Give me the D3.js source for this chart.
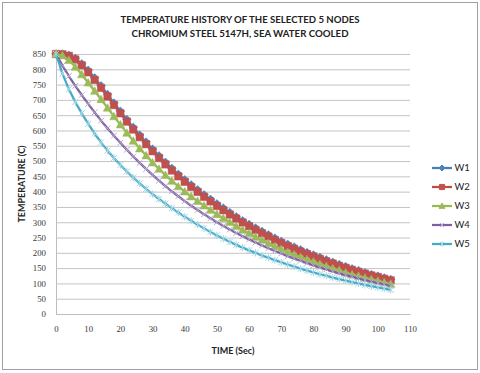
<!DOCTYPE html>
<html>
<head>
<meta charset="utf-8">
<script src="https://cdnjs.cloudflare.com/ajax/libs/d3/7.8.5/d3.min.js"></script>
<style>
  body { margin: 0; background: #fff; }
  svg { display: block; }
</style>
</head>
<body>
<script>
// time steps (sec) - one reading every 2 seconds
const timeSec = [0,2,4,6,8,10,12,14,16,18,20,22,24,26,28,30,32,34,36,38,40,42,44,46,48,50,
  52,54,56,58,60,62,64,66,68,70,72,74,76,78,80,82,84,86,88,90,92,94,96,98,100,102,104];

// node temperatures (C)
const w1 = [850,850,846,836,818,797,772,746,718,690,663,636,610,585,562,539,517,496,476,457,439,422,406,390,375,360,
  346,332,318,305,293,281,270,259,248,238,228,219,210,201,193,185,177,169,162,155,148,142,135,129,124,118,113];
const w2 = [850,849,844,832,813,790,765,739,711,683,656,629,603,578,555,532,510,489,469,450,432,415,399,383,368,353,
  339,325,312,299,287,275,264,253,242,232,222,213,204,196,188,180,172,165,157,151,144,138,132,126,121,115,110];
const w3 = [850,845,830,808,783,756,729,702,674,646,619,592,566,541,518,495,474,454,435,417,400,384,369,354,340,326,
  313,300,287,275,264,252,242,231,221,212,202,194,186,178,171,163,156,149,143,135,129,124,118,113,108,103,98];
const w4 = [850,812,778,746,716,687,659,632,607,583,560,537,515,494,474,455,436,418,401,385,369,354,340,326,313,300,
  288,276,265,254,244,234,224,215,206,198,189,181,174,166,159,152,146,139,133,127,122,116,111,106,101,97,92];
const w5 = [850,786,735,693,656,622,590,561,534,510,487,466,446,427,409,392,376,361,346,332,318,305,292,280,268,257,
  246,236,226,217,208,200,191,184,176,169,162,155,148,142,136,130,125,119,114,109,104,100,95,91,87,83,79];

const seriesNames = ["W1", "W2", "W3", "W4", "W5"];
const yTicks = [0,50,100,150,200,250,300,350,400,450,500,550,600,650,700,750,800,850];
const xTicks = [0,10,20,30,40,50,60,70,80,90,100,110];

const width = 480, height = 373;

const svg = d3.select("body").append("svg")
    .attr("width", width)
    .attr("height", height);

// outer chart frame
svg.append("rect")
    .attr("x", 2.5).attr("y", 2.5)
    .attr("width", 475).attr("height", 367)
    .attr("fill", "#fff")
    .attr("stroke", "#a0a0a0");

const x = d3.scaleLinear().domain([0, 110]).range([56, 410]);
const y = d3.scaleLinear().domain([0, 850]).range([314, 54]);

// y axis with the gridlines
const yAxis = svg.append("g")
    .attr("transform", "translate(56,0)")
    .call(d3.axisLeft(y).tickValues(yTicks).tickSize(-(410 - 56)).tickPadding(10));
yAxis.select(".domain").attr("stroke", "#bdbdbd");
yAxis.selectAll(".tick line").attr("stroke", "#c4c4c4");
yAxis.selectAll("text")
    .attr("fill", "#3a3a3a")
    .style("font-family", "'Liberation Serif', serif")
    .style("font-size", "8.8px");

const xAxis = svg.append("g")
    .attr("transform", "translate(0,314)")
    .call(d3.axisBottom(x).tickValues(xTicks).tickSize(0).tickPadding(12));
xAxis.select(".domain").attr("stroke", "#bdbdbd");
xAxis.selectAll("text")
    .attr("fill", "#3a3a3a")
    .style("font-family", "'Liberation Serif', serif")
    .style("font-size", "8.8px");

// titles
const titleFont = "Lato, 'Open Sans', sans-serif";
svg.append("text")
    .attr("x", 240).attr("y", 22.5)
    .attr("text-anchor", "middle")
    .attr("textLength", 239).attr("lengthAdjust", "spacingAndGlyphs")
    .style("font-family", titleFont).style("font-weight", "bold").style("font-size", "10px")
    .attr("fill", "#222")
    .text("TEMPERATURE HISTORY OF THE SELECTED 5 NODES");
svg.append("text")
    .attr("x", 240).attr("y", 36.5)
    .attr("text-anchor", "middle")
    .attr("textLength", 217).attr("lengthAdjust", "spacingAndGlyphs")
    .style("font-family", titleFont).style("font-weight", "bold").style("font-size", "10px")
    .attr("fill", "#222")
    .text("CHROMIUM STEEL 5147H, SEA WATER COOLED");

svg.append("text")
    .attr("x", 233).attr("y", 354)
    .attr("text-anchor", "middle")
    .style("font-family", titleFont).style("font-weight", "bold").style("font-size", "9px")
    .attr("fill", "#222")
    .text("TIME (Sec)");

svg.append("text")
    .attr("transform", "translate(24.5,184) rotate(-90)")
    .attr("text-anchor", "middle")
    .style("font-family", titleFont).style("font-weight", "bold").style("font-size", "9px")
    .attr("fill", "#222")
    .text("TEMPERATURE (C)");

// marker shapes, excel style
function markerPath(kind, r) {
    if (kind === "diamond") return `M0,${-r}L${r},0L0,${r}L${-r},0Z`;
    if (kind === "square") return `M${-r},${-r}H${r}V${r}H${-r}Z`;
    if (kind === "triangle") return `M0,${-r}L${r},${r * 0.8}L${-r},${r * 0.8}Z`;
    if (kind === "x") return `M${-r},${-r}L${r},${r}M${-r},${r}L${r},${-r}`;
    // star = x with a vertical bar
    return `M${-r},${-r}L${r},${r}M${-r},${r}L${r},${-r}M0,${-r * 1.2}V${r * 1.2}`;
}

const series = [
    { name: seriesNames[0], values: w1, line: "#4a7ebb", mark: "#4f81bd", shape: "diamond", r: 4.3, filled: true },
    { name: seriesNames[1], values: w2, line: "#be4b48", mark: "#c0504d", shape: "square", r: 3.7, filled: true },
    { name: seriesNames[2], values: w3, line: "#98b954", mark: "#9bbb59", shape: "triangle", r: 4.2, filled: true },
    { name: seriesNames[3], values: w4, line: "#7d60a0", mark: "#b8a6d3", shape: "x", r: 2.8, filled: false },
    { name: seriesNames[4], values: w5, line: "#46aac5", mark: "#9fd6e6", shape: "star", r: 3, filled: false }
];

const line = d3.line()
    .x((d, i) => x(timeSec[i]))
    .y(d => y(d));

series.forEach(s => {
    const g = svg.append("g");
    g.append("path")
        .attr("d", line(s.values))
        .attr("fill", "none")
        .attr("stroke", s.line)
        .attr("stroke-width", 2.25)
        .attr("stroke-linejoin", "round");

    g.selectAll("path.mk")
        .data(s.values)
        .enter()
        .append("path")
        .attr("class", "mk")
        .attr("transform", (d, i) => `translate(${x(timeSec[i])},${y(d)})`)
        .attr("d", markerPath(s.shape, s.r))
        .attr("fill", s.filled ? s.mark : "none")
        .attr("stroke", s.mark)
        .attr("stroke-width", s.filled ? 0.5 : 1);
});

// legend on the right
const legend = svg.append("g");
series.forEach((s, i) => {
    const ly = 168 + i * 19;
    legend.append("line")
        .attr("x1", 432).attr("x2", 452)
        .attr("y1", ly).attr("y2", ly)
        .attr("stroke", s.line)
        .attr("stroke-width", 2.25);
    legend.append("path")
        .attr("transform", `translate(442,${ly})`)
        .attr("d", markerPath(s.shape, s.r * 0.7))
        .attr("fill", s.filled ? s.mark : "none")
        .attr("stroke", s.mark)
        .attr("stroke-width", 1);
    legend.append("text")
        .attr("x", 454.5).attr("y", ly + 3.3)
        .style("font-family", titleFont).style("font-size", "9.5px")
        .attr("fill", "#222")
        .text(s.name);
});
</script>
</body>
</html>
